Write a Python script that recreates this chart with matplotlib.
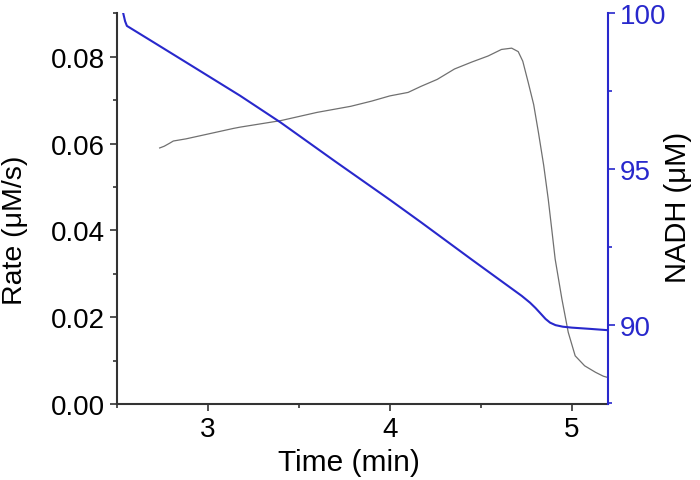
import matplotlib
matplotlib.use('Agg')
import matplotlib.pyplot as plt
from matplotlib.ticker import MultipleLocator, FormatStrFormatter

plt.rcParams['font.family'] = ['Liberation Sans', 'DejaVu Sans']

# NADH trace (right axis)
nadh_time = [2.535, 2.545, 2.555, 2.70, 2.90, 3.177, 3.40, 3.70, 4.00, 4.171,
             4.448, 4.724, 4.77, 4.80, 4.83, 4.855, 4.88, 4.91, 4.95, 5.0,
             5.10, 5.193]
nadh_conc = [100.0, 99.75, 99.6, 99.08, 98.36, 97.36, 96.5, 95.25, 94.02, 93.30,
             92.11, 90.94, 90.72, 90.55, 90.36, 90.20, 90.08, 90.00, 89.95, 89.92,
             89.88, 89.84]

# Rate trace (left axis)
rate_time = [2.735, 2.76, 2.79, 2.81, 2.88, 2.956, 3.14, 3.177, 3.40, 3.60,
             3.785, 3.90, 4.00, 4.10, 4.171, 4.26, 4.355, 4.45, 4.54, 4.613,
             4.669, 4.705, 4.73, 4.76, 4.79, 4.816, 4.845, 4.87, 4.89, 4.908,
             4.945, 4.98, 5.018, 5.07, 5.13, 5.173, 5.19]
rate_vals = [0.0590, 0.0594, 0.0601, 0.0606, 0.0611, 0.0618, 0.0635, 0.0638, 0.0653, 0.0672,
             0.0686, 0.0698, 0.0710, 0.0718, 0.0732, 0.0748, 0.0772, 0.0788, 0.0802, 0.0817,
             0.0820, 0.0812, 0.0790, 0.0741, 0.0690, 0.0626, 0.0550, 0.0472, 0.0400, 0.0334,
             0.0242, 0.0165, 0.0111, 0.0088, 0.0073, 0.0064, 0.0062]

blue = '#2828cc'
dark = '#333333'

fig = plt.figure(figsize=(7, 4.81), dpi=100)
ax = fig.add_axes([0.167, 0.158, 0.702, 0.812])
ax2 = ax.twinx()

ax.plot(rate_time, rate_vals, color='#707070', lw=0.9)
ax2.plot(nadh_time, nadh_conc, color=blue, lw=1.5)

ax.set_xlim(2.5, 5.2)
ax.set_ylim(0, 0.09)
ax2.set_ylim(87.47, 100)

ax.xaxis.set_major_locator(MultipleLocator(1))
ax.xaxis.set_minor_locator(MultipleLocator(0.5))
ax.yaxis.set_major_locator(MultipleLocator(0.02))
ax.yaxis.set_minor_locator(MultipleLocator(0.01))
ax.yaxis.set_major_formatter(FormatStrFormatter('%.2f'))
ax2.yaxis.set_major_locator(MultipleLocator(5))
ax2.yaxis.set_minor_locator(MultipleLocator(2.5))

for a in (ax, ax2):
    a.spines['top'].set_visible(False)
ax2.spines['left'].set_visible(False)
ax2.spines['bottom'].set_visible(False)
ax.spines['right'].set_visible(False)
for s in ('left', 'bottom'):
    ax.spines[s].set_color(dark)
    ax.spines[s].set_linewidth(1.5)
ax2.spines['right'].set_color(blue)
ax2.spines['right'].set_linewidth(1.5)

ax.tick_params(axis='both', which='major', direction='out', length=5, width=1.2,
               color=dark, labelsize=20, labelcolor='black')
ax.tick_params(axis='both', which='minor', direction='out', length=3, width=1.2, color=dark)
ax2.tick_params(axis='y', which='major', direction='out', length=5, width=1.2,
                color=blue, labelsize=20, labelcolor=blue)
ax2.tick_params(axis='y', which='minor', direction='out', length=3, width=1.2, color=blue)

ax.set_xlabel('Time (min)', fontsize=21.5)
ax.xaxis.set_label_coords(0.472, -0.112)
ax.set_ylabel('Rate (μM/s)', fontsize=20.5)
ax.yaxis.set_label_coords(-0.180, 0.448)
ax2.set_ylabel('NADH (μM)', fontsize=21)
ax2.yaxis.set_label_coords(1.113, 0.507)

fig.savefig('out.png', dpi=100)
